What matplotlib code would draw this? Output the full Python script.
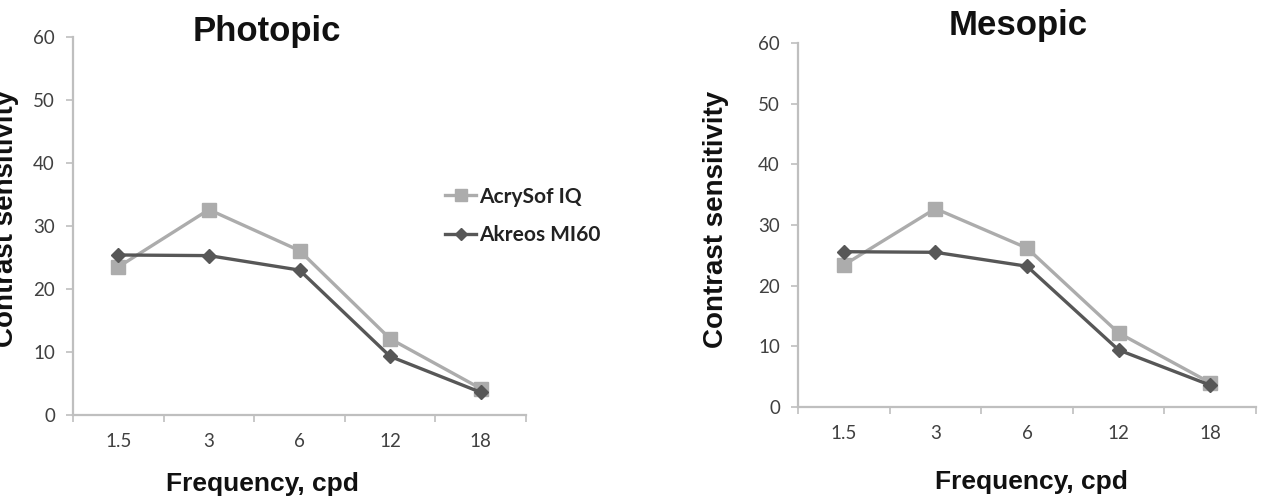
import matplotlib
matplotlib.use("Agg")
import matplotlib.pyplot as plt
from matplotlib.lines import Line2D

categories = ["1.5", "3", "6", "12", "18"]
photopic_acrysof = [23.5, 32.6, 26.1, 12.1, 4.2]
photopic_akreos = [25.4, 25.3, 23.0, 9.3, 3.6]
mesopic_acrysof = [23.4, 32.7, 26.2, 12.2, 4.0]
mesopic_akreos = [25.6, 25.5, 23.2, 9.4, 3.6]
series_names = ["AcrySof IQ", "Akreos MI60"]
yticks = [0, 10, 20, 30, 40, 50, 60]

C_LIGHT = "#acacac"
C_DARK = "#575757"
AX_C = "#bfbfbf"
TICK_C = "#404040"

W, H = 1262, 498
fig = plt.figure(figsize=(W / 100, H / 100), dpi=100)
fig.patch.set_facecolor("white")


def px_axes(x0, x1, ytop, ybot):
    return fig.add_axes([x0 / W, (H - ybot) / H, (x1 - x0) / W, (ybot - ytop) / H])


def style(ax, title, title_xy, xlabel_xy, ylabel_x):
    x = list(range(len(categories)))
    ax.set_xlim(-0.5, len(categories) - 0.5)
    ax.set_ylim(0, 60)
    for s in ["top", "right"]:
        ax.spines[s].set_visible(False)
    for s in ["left", "bottom"]:
        ax.spines[s].set_color(AX_C)
        ax.spines[s].set_linewidth(1.6)
    ax.set_yticks(yticks)
    ax.set_yticklabels([str(v) for v in yticks], fontfamily="Lato", fontsize=13.5, color=TICK_C)
    ax.tick_params(axis="y", length=5, width=1.2, color=AX_C, pad=8)
    ax.set_xticks(x)
    ax.set_xticklabels(categories, fontfamily="Lato", fontsize=13.5, color=TICK_C)
    ax.tick_params(axis="x", length=0, pad=13)
    ax.set_xticks([i - 0.5 for i in range(len(categories) + 1)], minor=True)
    ax.tick_params(axis="x", which="minor", length=5, width=1.2, color=AX_C, direction="out")
    ax.text(title_xy[0], title_xy[1], title, transform=fig.transFigure, ha="center", va="center",
            fontfamily="Liberation Sans", fontweight="bold", fontsize=25, color="#111111")
    ax.text(xlabel_xy[0], xlabel_xy[1], "Frequency, cpd", transform=fig.transFigure, ha="center",
            va="center", fontfamily="Liberation Sans", fontweight="bold", fontsize=19,
            color="#111111")
    ax.text(ylabel_x[0], ylabel_x[1], "Contrast sensitivity", transform=fig.transFigure,
            ha="center", va="center", rotation=90, fontfamily="Liberation Sans",
            fontweight="bold", fontsize=20, color="#111111")


def draw(ax, a, b):
    x = list(range(len(categories)))
    ax.plot(x, a, color=C_LIGHT, lw=2.4, marker="s", ms=10, mec=C_LIGHT, mfc=C_LIGHT, zorder=3,
            clip_on=False)
    ax.plot(x, b, color=C_DARK, lw=2.4, marker="D", ms=7, mec=C_DARK, mfc=C_DARK, zorder=4,
            clip_on=False)


ax1 = px_axes(73, 526, 37, 415)
draw(ax1, photopic_acrysof, photopic_akreos)
style(ax1, "Photopic", (267 / W, 1 - 31 / H), (262 / W, 1 - 484 / H), (6 / W, 1 - 218 / H))

ax2 = px_axes(798, 1256, 43, 407)
draw(ax2, mesopic_acrysof, mesopic_akreos)
style(ax2, "Mesopic", (1018 / W, 1 - 25 / H), (1031 / W, 1 - 482 / H), (716 / W, 1 - 219 / H))

handles = [
    Line2D([], [], color=C_LIGHT, lw=2.4, marker="s", ms=9, mec=C_LIGHT, mfc=C_LIGHT),
    Line2D([], [], color=C_DARK, lw=2.4, marker="D", ms=6, mec=C_DARK, mfc=C_DARK),
]
leg = fig.legend(handles, series_names, loc="center left", bbox_to_anchor=(445 / W, 1 - 216 / H),
                 frameon=False, prop={"family": "Lato", "weight": "bold", "size": 15},
                 handlelength=1.5, handletextpad=0.15, labelspacing=0.9, borderaxespad=0,
                 borderpad=0)
for t in leg.get_texts():
    t.set_color("#222222")

fig.savefig("out.png", dpi=100, facecolor="white")
